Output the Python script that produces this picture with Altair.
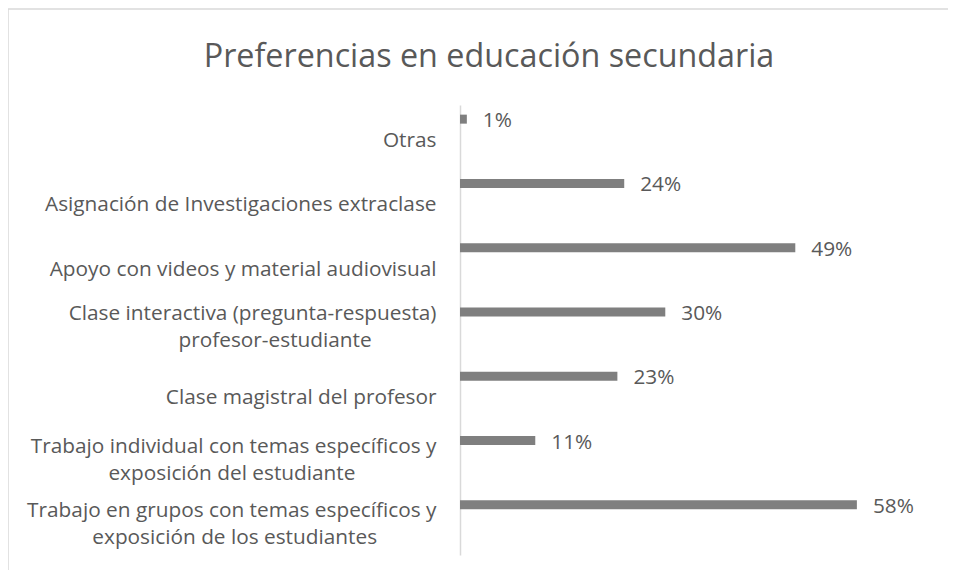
import altair as alt
import pandas as pd

# Category labels (top to bottom); "|" marks a line break in the label
categories = [
    "Otras",
    "Asignación de Investigaciones extraclase",
    "Apoyo con videos y material audiovisual",
    "Clase interactiva (pregunta-respuesta)|profesor-estudiante",
    "Clase magistral del profesor",
    "Trabajo individual con temas específicos y|exposición del estudiante",
    "Trabajo en grupos con temas específicos y|exposición de los estudiantes",
]
values = [0.01, 0.24, 0.49, 0.30, 0.23, 0.11, 0.58]
title_text = "Preferencias en educación secundaria"

# non-breaking-space padding for centring the second line of wrapped labels
second_line_pad = {3: 12, 5: 15, 6: 11}

def label_text(i, c):
    parts = c.split("|")
    if len(parts) > 1:
        parts[1] = parts[1] + "\u00a0" * second_line_pad.get(i, 0) + "\u200b"
    return "|".join(parts)

labels = [label_text(i, c) for i, c in enumerate(categories)]
df = pd.DataFrame({"categoria": labels, "valor": values})

FONT = "Open Sans"
TEXT = "#595959"
FS = 20.8

y_enc = alt.Y(
    "categoria:N",
    sort=labels,
    scale=alt.Scale(paddingInner=0, paddingOuter=0),
    axis=alt.Axis(
        title=None,
        ticks=False,
        domainColor="#d9d9d9",
        domainWidth=1.5,
        labelFont=FONT,
        labelFontSize=FS,
        labelColor=TEXT,
        labelPadding=24,
        labelLimit=600,
        labelOffset={
            "condition": [
                {"test": "indexof(datum.value, 'interactiva') >= 0", "value": -16},
                {"test": "indexof(datum.value, '|') >= 0", "value": -12},
            ],
            "value": 4,
        },
        labelLineHeight=27,
        labelExpr="split(datum.label, '|')",
    ),
)
x_enc = alt.X(
    "valor:Q",
    scale=alt.Scale(domain=[0, 0.7], nice=False),
    axis=None,
)

frame = alt.Chart(pd.DataFrame({"f": [0]})).mark_rect(
    fill=None, stroke="#d9d9d9", strokeWidth=1.5
).encode(
    x=alt.value(-452), x2=alt.value(600), y=alt.value(-96), y2=alt.value(600)
)

title = alt.Chart(pd.DataFrame({"t": [title_text]})).mark_text(
    align="center", baseline="alphabetic", font=FONT, fontSize=32.3, color=TEXT
).encode(x=alt.value(29), y=alt.value(-38), text="t:N")

bars = alt.Chart(df).mark_bar(height=9, yOffset=-18, color="#7f7f7f").encode(
    x=x_enc, y=y_enc
)
texts = alt.Chart(df).mark_text(
    align="left", baseline="middle", dx=16, yOffset=-16,
    font=FONT, fontSize=FS, color=TEXT
).encode(
    x=alt.X("valor:Q"), y=alt.Y("categoria:N", sort=labels),
    text=alt.Text("valor:Q", format=".0%"),
)

chart = alt.layer(frame, title, bars, texts).properties(
    width=479,
    height=450,
    autosize=alt.AutoSizeParams(type="none"),
    padding={"left": 452, "top": 97, "right": 9, "bottom": 15},
).configure_view(stroke=None)

chart.save("out.html", embed_options={"renderer": "svg", "actions": False})
